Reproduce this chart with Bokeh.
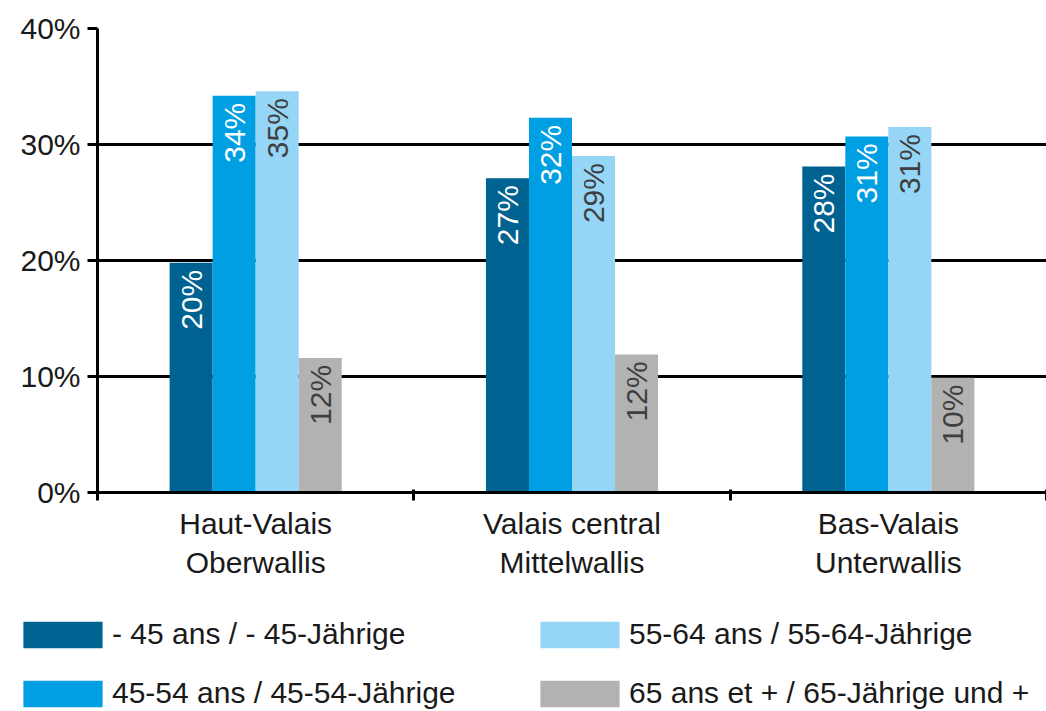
import math
from bokeh.plotting import figure
from bokeh.layouts import column
from bokeh.models import (Range1d, LinearAxis, FixedTicker,
                          PrintfTickFormatter, Legend, LegendItem, ColumnDataSource)
from bokeh.embed import file_html
from bokeh.resources import INLINE
from bokeh.core.properties import value

# ---- data ----
regions = ["Haut-Valais\nOberwallis", "Valais central\nMittelwallis", "Bas-Valais\nUnterwallis"]
series = ["- 45 ans / - 45-Jährige", "45-54 ans / 45-54-Jährige",
          "55-64 ans / 55-64-Jährige", "65 ans et + / 65-Jährige und +"]
under45 = [19.8, 27.1, 28.1]
age45_54 = [34.2, 32.3, 30.7]
age55_64 = [34.6, 29.0, 31.5]
age65plus = [11.6, 11.9, 9.9]
labels_under45 = ["20%", "27%", "28%"]
labels_45_54 = ["34%", "32%", "31%"]
labels_55_64 = ["35%", "29%", "31%"]
labels_65plus = ["12%", "12%", "10%"]
y_ticks = [0, 10, 20, 30, 40]

values = [under45, age45_54, age55_64, age65plus]
labels = [labels_under45, labels_45_54, labels_55_64, labels_65plus]
colors = ["#006290", "#009fe3", "#95d5f6", "#b2b2b2"]
label_colors = ["#ffffff", "#ffffff", "#3f3f3f", "#3f3f3f"]

FONT = "Liberation Sans"
BAR_W = 0.136
n = len(regions)
centers = [k + 0.5 for k in range(n)]
bounds = list(range(n + 1))

p = figure(x_range=Range1d(0, n), y_range=Range1d(0, 40),
           width=1046, height=600,
           output_backend="svg", toolbar_location=None,
           x_axis_location=None,
           min_border_left=97, min_border_right=0,
           min_border_top=28, min_border_bottom=108)
p.frame_align = False
p.outline_line_color = None
p.background_fill_color = "white"
p.border_fill_color = "white"

for i in range(4):
    off = (i - 1.5) * BAR_W
    src = ColumnDataSource(dict(x=[c + off for c in centers], top=values[i], lab=labels[i],
                                ly=[v - 0.6 for v in values[i]]))
    p.vbar(x="x", top="top", bottom=0, width=BAR_W,
           source=src, fill_color=colors[i], line_color=None)
    p.text(x="x", y="ly", text="lab", source=src,
           angle=math.pi / 2, text_align="right", text_baseline="middle",
           text_font=value(FONT), text_font_size="30px", text_color=label_colors[i])

# y axis
ya = p.yaxis[0]
ya.ticker = FixedTicker(ticks=y_ticks)
ya.formatter = PrintfTickFormatter(format="%d%%")
ya.axis_line_color = "black"
ya.axis_line_width = 3
ya.major_tick_line_color = "black"
ya.major_tick_line_width = 3
ya.major_tick_out = 10
ya.major_tick_in = 0
ya.minor_tick_line_color = None
ya.major_label_text_font = FONT
ya.major_label_text_font_size = "30px"
ya.major_label_text_color = "#1a1a1a"
ya.major_label_standoff = 7

p.ygrid.ticker = FixedTicker(ticks=y_ticks)
p.ygrid.grid_line_color = "black"
p.ygrid.grid_line_width = 3
for g in p.xgrid:
    g.visible = False

# x axis: boundary ticks (no labels)
xa = LinearAxis(ticker=FixedTicker(ticks=bounds),
                major_label_overrides={b: "" for b in bounds})
xa.axis_line_color = "black"
xa.axis_line_width = 3
xa.major_tick_line_color = "black"
xa.major_tick_line_width = 3
xa.major_tick_out = 8
xa.major_tick_in = 3
xa.minor_tick_line_color = None
xa.major_label_standoff = 0
p.add_layout(xa, "below")

# x axis: category labels
ca = LinearAxis(ticker=FixedTicker(ticks=centers),
                major_label_overrides={c: r for c, r in zip(centers, regions)})
ca.axis_line_color = None
ca.major_tick_line_color = None
ca.minor_tick_line_color = None
ca.major_label_text_font = FONT
ca.major_label_text_font_size = "30px"
ca.major_label_text_color = "#1a1a1a"
ca.major_label_standoff = 0
p.add_layout(ca, "below")

# ---- legend (separate strip below the chart) ----
lg = figure(x_range=Range1d(0, n), y_range=Range1d(1000, 1001), width=1046, height=111,
            output_backend="svg", toolbar_location=None,
            x_axis_location=None, y_axis_location=None, min_border=0)
lg.frame_align = False
lg.outline_line_color = None
lg.grid.visible = False
lg.border_fill_color = "white"
lg.background_fill_color = "white"
swatches = []
for i in range(4):
    off = (i - 1.5) * BAR_W
    # same series, outside this strip's visible range: only used as legend glyphs
    swatches.append(lg.vbar(x=[c + off for c in centers], top=values[i], bottom=0, width=BAR_W,
                            fill_color=colors[i], line_color=None))

legend = Legend(items=[LegendItem(label=series[i], renderers=[swatches[i]]) for i in range(4)],
                location=(13, 0), orientation="vertical", nrows=2,
                glyph_width=99, glyph_height=33, label_standoff=0,
                label_width=395, label_height=36, spacing=23,
                padding=0, margin=0, border_line_color=None,
                background_fill_alpha=0,
                label_text_font=FONT, label_text_font_size="30px",
                label_text_color="#1a1a1a")
lg.add_layout(legend)

open("out.html", "w").write(file_html(column(p, lg, spacing=0), INLINE))
